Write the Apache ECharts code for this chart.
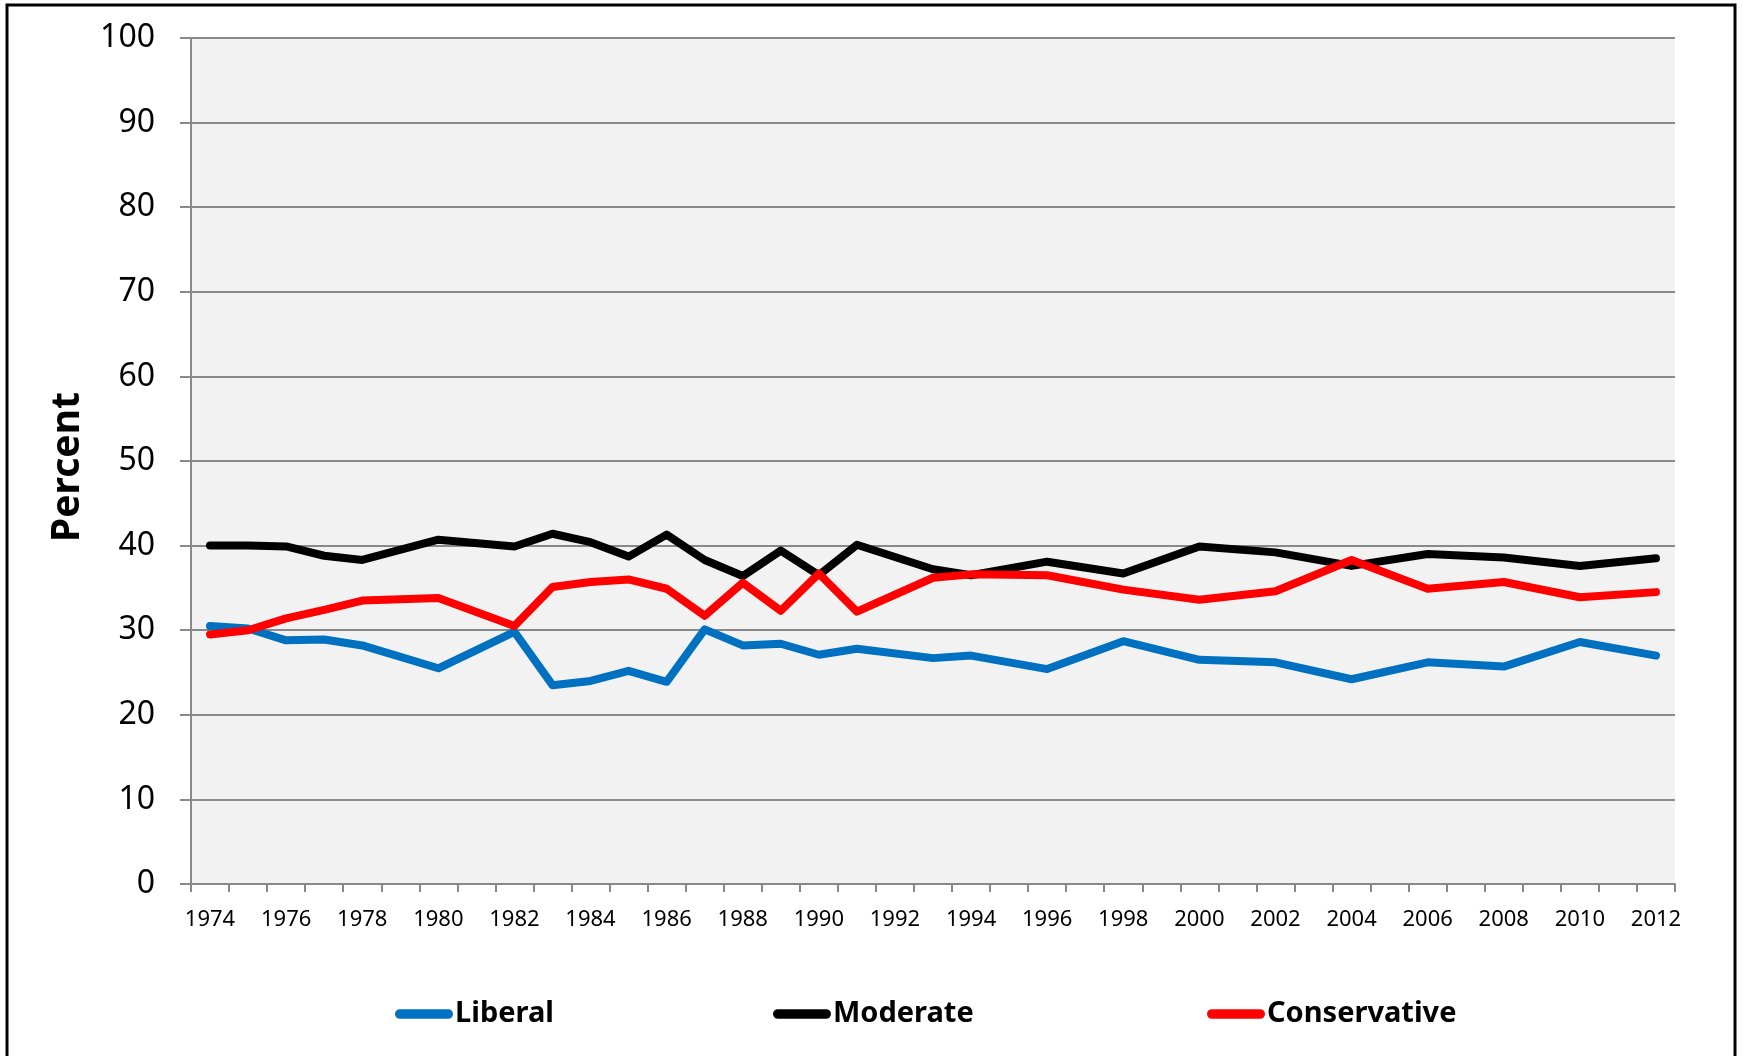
<!DOCTYPE html>
<html>
<head>
<meta charset="utf-8">
<script src="https://cdn.jsdelivr.net/npm/echarts@6/dist/echarts.min.js"></script>
<style>
html,body{margin:0;padding:0;background:#fff;}
#chart{width:1744px;height:1056px;}
</style>
</head>
<body>
<div id="chart"></div>
<script>
// Category axis: every year 1974..2012 (labels shown every other year)
const years = [];
for (let y = 1974; y <= 2012; y++) years.push(String(y));

// Survey years with data
const surveyYears = [1974,1975,1976,1977,1978,1980,1982,1983,1984,1985,1986,1987,1988,1989,1990,1991,1993,1994,1996,1998,2000,2002,2004,2006,2008,2010,2012];
const liberal      = [30.5,30.2,28.8,28.9,28.2,25.5,29.8,23.5,24.0,25.2,23.9,30.1,28.2,28.4,27.1,27.8,26.7,27.0,25.4,28.7,26.5,26.2,24.2,26.2,25.7,28.6,27.0];
const moderate     = [40.0,40.0,39.9,38.8,38.3,40.7,39.9,41.4,40.4,38.7,41.3,38.3,36.4,39.4,36.5,40.1,37.2,36.5,38.1,36.7,39.9,39.2,37.6,39.0,38.6,37.6,38.5];
const conservative = [29.5,30.0,31.4,32.4,33.5,33.8,30.5,35.1,35.7,36.0,34.9,31.7,35.6,32.3,36.7,32.2,36.2,36.6,36.5,34.8,33.6,34.6,38.3,34.9,35.7,33.9,34.5];

const seriesNames = ['Liberal','Moderate','Conservative'];
const yTicks = [0,10,20,30,40,50,60,70,80,90,100];

function toCategorySeries(vals) {
  const map = {};
  surveyYears.forEach((y, i) => { map[y] = vals[i]; });
  return years.map(y => (map[+y] !== undefined ? map[+y] : null));
}

const chart = echarts.init(document.getElementById('chart'), null, {renderer: 'canvas'});
const lineStyleBase = {width: 8, cap: 'round', join: 'round'};
const colors = ['#0070C0', '#000000', '#FF0000'];
const dataSets = [liberal, moderate, conservative];
const legendLefts = [395, 773, 1207];

const pill = 'path://M5,0 L55,0 A5,5 0 0 1 55,10 L5,10 A5,5 0 0 1 5,0 Z';

chart.setOption({
  animation: false,
  backgroundColor: '#ffffff',
  grid: {left: 191, right: 69, top: 38, bottom: 172, show: true, backgroundColor: '#F2F2F2', borderWidth: 0},
  xAxis: {
    type: 'category',
    data: years,
    boundaryGap: true,
    axisLine: {show: true, lineStyle: {color: '#898989', width: 2}},
    axisTick: {show: true, interval: 0, length: 8, lineStyle: {color: '#898989', width: 2}},
    axisLabel: {interval: 1, color: '#000', fontSize: 22, fontFamily: '"Noto Sans", sans-serif', margin: 25},
    splitLine: {show: false}
  },
  yAxis: {
    type: 'value',
    min: yTicks[0], max: yTicks[yTicks.length - 1], interval: 10,
    name: 'Percent',
    nameLocation: 'middle',
    nameGap: 104,
    nameRotate: 90,
    nameTextStyle: {fontSize: 39, fontWeight: 'bold', color: '#000', fontFamily: '"Noto Sans", sans-serif', padding: [0, 0, 0, -12]},
    axisLine: {show: true, lineStyle: {color: '#898989', width: 2}},
    axisTick: {show: true, inside: false, length: 11, lineStyle: {color: '#898989', width: 2}},
    axisLabel: {color: '#000', fontSize: 32, fontFamily: '"Noto Sans", sans-serif', margin: 36},
    splitLine: {show: true, lineStyle: {color: '#898989', width: 2}}
  },
  legend: seriesNames.map((n, i) => ({
    data: [{name: n, icon: pill, itemStyle: {color: colors[i]}}],
    left: legendLefts[i],
    top: 996,
    padding: 0,
    itemWidth: 58,
    itemHeight: 10,
    textStyle: {fontSize: 29, fontWeight: 'bold', color: '#000', fontFamily: '"Noto Sans", sans-serif', lineHeight: 36, padding: [0, 0, 0, -3]}
  })),
  graphic: [{
    type: 'rect', silent: true, z: 100,
    shape: {x: 7, y: 5, width: 1728, height: 1100},
    style: {fill: 'none', stroke: '#000', lineWidth: 3}
  }],
  series: seriesNames.map((n, i) => ({
    name: n,
    type: 'line',
    data: toCategorySeries(dataSets[i]),
    connectNulls: true,
    showSymbol: false,
    symbol: 'none',
    color: colors[i],
    lineStyle: Object.assign({color: colors[i]}, lineStyleBase),
    z: 2 + i
  }))
});
</script>
</body>
</html>
